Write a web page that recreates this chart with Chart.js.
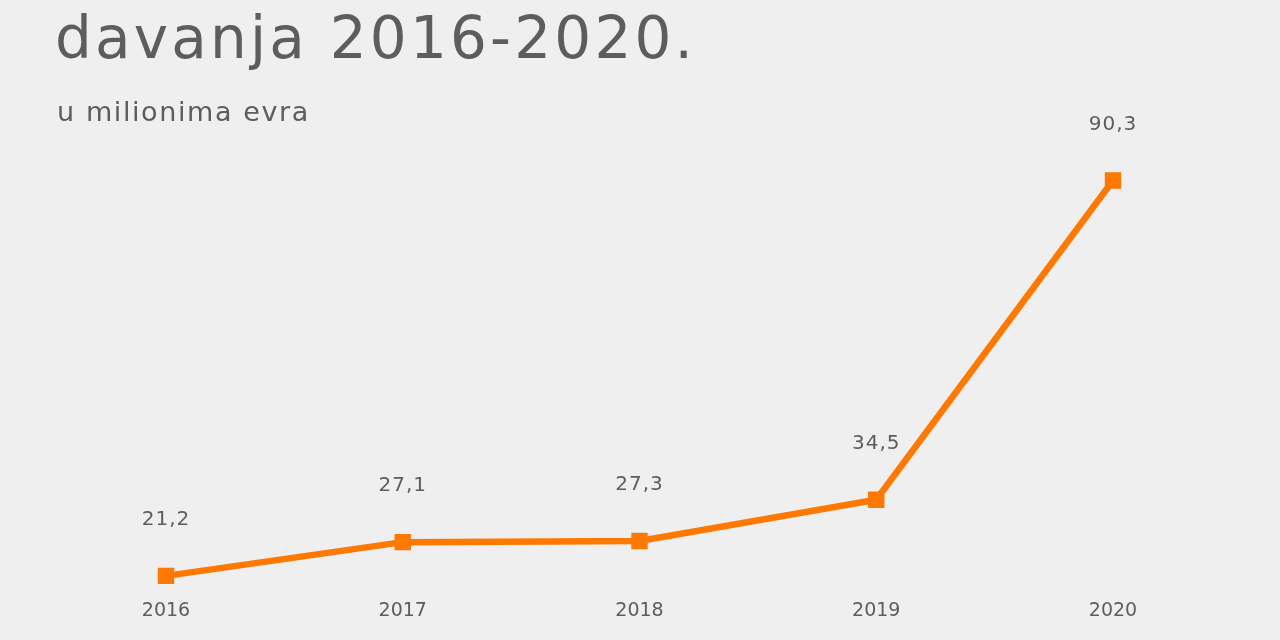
<!DOCTYPE html>
<html>
<head>
<meta charset="utf-8">
<script src="https://cdn.jsdelivr.net/npm/chart.js@4"></script>
<style>
  html, body { margin: 0; padding: 0; background: #efefef; }
  #wrap { width: 1280px; height: 640px; position: relative; }
</style>
</head>
<body>
<div id="wrap"><canvas id="myChart"></canvas></div>
<script>
var years = ['2016', '2017', '2018', '2019', '2020'];
var values = [21.2, 27.1, 27.3, 34.5, 90.3];
var valueLabels = ['21,2', '27,1', '27,3', '34,5', '90,3'];

var txtColor = '#5d5d5d';
var fontFam = '"DejaVu Sans", sans-serif';

// title, subtitle and value labels drawn on the canvas
var textPlugin = {
  id: 'texts',
  afterDatasetsDraw: function(chart) {
    var ctx = chart.ctx;
    ctx.save();
    ctx.fillStyle = txtColor;
    ctx.textAlign = 'left';
    ctx.textBaseline = 'alphabetic';
    ctx.letterSpacing = '3.2px';
    ctx.font = '58px ' + fontFam;
    ctx.fillText('davanja 2016-2020.', 55, 58);
    ctx.letterSpacing = '1.6px';
    ctx.font = '27px ' + fontFam;
    ctx.fillText('u milionima evra', 57, 121);

    var meta = chart.getDatasetMeta(0);
    ctx.letterSpacing = '1px';
    ctx.font = '20px ' + fontFam;
    ctx.textAlign = 'center';
    ctx.textBaseline = 'middle';
    for (var i = 0; i < meta.data.length; i++) {
      var pt = meta.data[i];
      ctx.fillText(valueLabels[i], pt.x, pt.y - 56);
    }
    ctx.restore();
  }
};

var ctx = document.getElementById('myChart').getContext('2d');
var myChart = new Chart(ctx, {
  type: 'line',
  data: {
    labels: years,
    datasets: [{
      data: values,
      borderColor: '#ff7800',
      backgroundColor: '#ff7800',
      borderWidth: 6.5,
      pointStyle: 'rect',
      pointRadius: 7,
      pointHoverRadius: 7,
      tension: 0
    }]
  },
  options: {
    responsive: true,
    maintainAspectRatio: false,
    animation: false,
    layout: {
      padding: { top: 125, left: 166, right: 167, bottom: 13 }
    },
    plugins: {
      legend: { display: false },
      tooltip: { enabled: false }
    },
    scales: {
      x: {
        grid: { display: false, drawTicks: false },
        border: { display: false },
        ticks: {
          color: txtColor,
          padding: 5,
          font: { family: 'DejaVu Sans', size: 19 }
        }
      },
      y: {
        display: false,
        min: 18,
        max: 100
      }
    }
  },
  plugins: [textPlugin]
});
</script>
</body>
</html>
